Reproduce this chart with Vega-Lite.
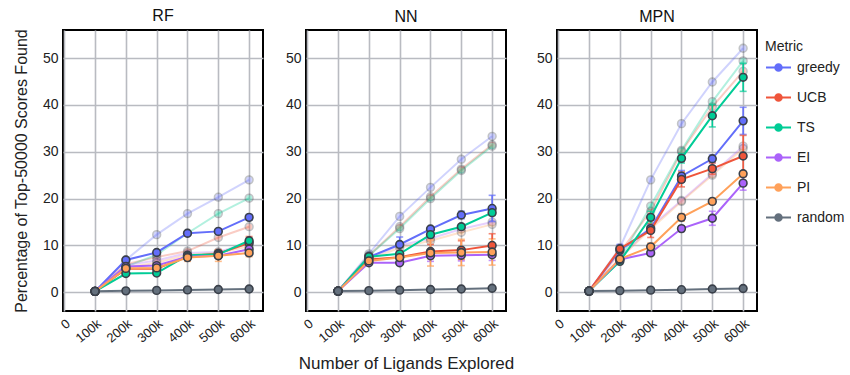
{
  "$schema": "https://vega.github.io/schema/vega-lite/v6.json",
  "padding": {"left": 12, "top": 6, "right": 5, "bottom": 2},
  "background": "white",
  "datasets": {
    "runs": [
      {"m":"RF","metric":"greedy","s":"main","n":100000,"pct":0.2},
      {"m":"RF","metric":"greedy","s":"main","n":200000,"pct":6.9},
      {"m":"RF","metric":"greedy","s":"main","n":300000,"pct":8.5},
      {"m":"RF","metric":"greedy","s":"main","n":400000,"pct":12.6},
      {"m":"RF","metric":"greedy","s":"main","n":500000,"pct":13.0},
      {"m":"RF","metric":"greedy","s":"main","n":600000,"pct":16.0,"err":0.6},
      {"m":"RF","metric":"UCB","s":"main","n":100000,"pct":0.2},
      {"m":"RF","metric":"UCB","s":"main","n":200000,"pct":5.0},
      {"m":"RF","metric":"UCB","s":"main","n":300000,"pct":5.0},
      {"m":"RF","metric":"UCB","s":"main","n":400000,"pct":7.7},
      {"m":"RF","metric":"UCB","s":"main","n":500000,"pct":8.3,"err":0.8},
      {"m":"RF","metric":"UCB","s":"main","n":600000,"pct":10.5,"err":1.4},
      {"m":"RF","metric":"TS","s":"main","n":100000,"pct":0.2},
      {"m":"RF","metric":"TS","s":"main","n":200000,"pct":4.0},
      {"m":"RF","metric":"TS","s":"main","n":300000,"pct":4.1},
      {"m":"RF","metric":"TS","s":"main","n":400000,"pct":7.9},
      {"m":"RF","metric":"TS","s":"main","n":500000,"pct":8.1},
      {"m":"RF","metric":"TS","s":"main","n":600000,"pct":11.0,"err":0.6},
      {"m":"RF","metric":"EI","s":"main","n":100000,"pct":0.2},
      {"m":"RF","metric":"EI","s":"main","n":200000,"pct":5.5},
      {"m":"RF","metric":"EI","s":"main","n":300000,"pct":5.7},
      {"m":"RF","metric":"EI","s":"main","n":400000,"pct":7.6},
      {"m":"RF","metric":"EI","s":"main","n":500000,"pct":7.8},
      {"m":"RF","metric":"EI","s":"main","n":600000,"pct":9.2,"err":0.8},
      {"m":"RF","metric":"PI","s":"main","n":100000,"pct":0.2},
      {"m":"RF","metric":"PI","s":"main","n":200000,"pct":5.1},
      {"m":"RF","metric":"PI","s":"main","n":300000,"pct":5.2},
      {"m":"RF","metric":"PI","s":"main","n":400000,"pct":7.4,"err":0.8},
      {"m":"RF","metric":"PI","s":"main","n":500000,"pct":7.8,"err":1.2},
      {"m":"RF","metric":"PI","s":"main","n":600000,"pct":8.4,"err":0.8},
      {"m":"RF","metric":"random","s":"main","n":100000,"pct":0.2},
      {"m":"RF","metric":"random","s":"main","n":200000,"pct":0.3},
      {"m":"RF","metric":"random","s":"main","n":300000,"pct":0.4},
      {"m":"RF","metric":"random","s":"main","n":400000,"pct":0.5},
      {"m":"RF","metric":"random","s":"main","n":500000,"pct":0.6},
      {"m":"RF","metric":"random","s":"main","n":600000,"pct":0.7},
      {"m":"RF","metric":"greedy","s":"alt","n":100000,"pct":0.2},
      {"m":"RF","metric":"greedy","s":"alt","n":200000,"pct":6.9},
      {"m":"RF","metric":"greedy","s":"alt","n":300000,"pct":12.3},
      {"m":"RF","metric":"greedy","s":"alt","n":400000,"pct":16.8},
      {"m":"RF","metric":"greedy","s":"alt","n":500000,"pct":20.3},
      {"m":"RF","metric":"greedy","s":"alt","n":600000,"pct":24.0},
      {"m":"RF","metric":"UCB","s":"alt","n":100000,"pct":0.2},
      {"m":"RF","metric":"UCB","s":"alt","n":200000,"pct":6.0},
      {"m":"RF","metric":"UCB","s":"alt","n":300000,"pct":7.5},
      {"m":"RF","metric":"UCB","s":"alt","n":400000,"pct":8.8},
      {"m":"RF","metric":"UCB","s":"alt","n":500000,"pct":11.7},
      {"m":"RF","metric":"UCB","s":"alt","n":600000,"pct":14.0},
      {"m":"RF","metric":"TS","s":"alt","n":100000,"pct":0.2},
      {"m":"RF","metric":"TS","s":"alt","n":200000,"pct":5.5},
      {"m":"RF","metric":"TS","s":"alt","n":300000,"pct":8.0},
      {"m":"RF","metric":"TS","s":"alt","n":400000,"pct":12.6},
      {"m":"RF","metric":"TS","s":"alt","n":500000,"pct":16.8},
      {"m":"RF","metric":"TS","s":"alt","n":600000,"pct":20.1},
      {"m":"RF","metric":"EI","s":"alt","n":100000,"pct":0.2},
      {"m":"RF","metric":"EI","s":"alt","n":200000,"pct":5.8},
      {"m":"RF","metric":"EI","s":"alt","n":300000,"pct":6.8},
      {"m":"RF","metric":"EI","s":"alt","n":400000,"pct":8.4},
      {"m":"RF","metric":"EI","s":"alt","n":500000,"pct":8.6},
      {"m":"RF","metric":"EI","s":"alt","n":600000,"pct":10.6},
      {"m":"RF","metric":"PI","s":"alt","n":100000,"pct":0.2},
      {"m":"RF","metric":"PI","s":"alt","n":200000,"pct":5.3},
      {"m":"RF","metric":"PI","s":"alt","n":300000,"pct":6.3},
      {"m":"RF","metric":"PI","s":"alt","n":400000,"pct":8.0},
      {"m":"RF","metric":"PI","s":"alt","n":500000,"pct":8.4},
      {"m":"RF","metric":"PI","s":"alt","n":600000,"pct":9.8},

      {"m":"NN","metric":"greedy","s":"main","n":100000,"pct":0.25},
      {"m":"NN","metric":"greedy","s":"main","n":200000,"pct":7.5},
      {"m":"NN","metric":"greedy","s":"main","n":300000,"pct":10.2,"err":1.6},
      {"m":"NN","metric":"greedy","s":"main","n":400000,"pct":13.5,"err":0.5},
      {"m":"NN","metric":"greedy","s":"main","n":500000,"pct":16.5,"err":0.8},
      {"m":"NN","metric":"greedy","s":"main","n":600000,"pct":17.9,"err":2.8},
      {"m":"NN","metric":"UCB","s":"main","n":100000,"pct":0.25},
      {"m":"NN","metric":"UCB","s":"main","n":200000,"pct":7.0},
      {"m":"NN","metric":"UCB","s":"main","n":300000,"pct":7.5},
      {"m":"NN","metric":"UCB","s":"main","n":400000,"pct":8.7,"err":1.5},
      {"m":"NN","metric":"UCB","s":"main","n":500000,"pct":9.0,"err":2.0},
      {"m":"NN","metric":"UCB","s":"main","n":600000,"pct":10.0,"err":2.5},
      {"m":"NN","metric":"TS","s":"main","n":100000,"pct":0.25},
      {"m":"NN","metric":"TS","s":"main","n":200000,"pct":7.6},
      {"m":"NN","metric":"TS","s":"main","n":300000,"pct":8.2},
      {"m":"NN","metric":"TS","s":"main","n":400000,"pct":12.3,"err":0.5},
      {"m":"NN","metric":"TS","s":"main","n":500000,"pct":14.0,"err":0.5},
      {"m":"NN","metric":"TS","s":"main","n":600000,"pct":17.0,"err":0.6},
      {"m":"NN","metric":"EI","s":"main","n":100000,"pct":0.25},
      {"m":"NN","metric":"EI","s":"main","n":200000,"pct":6.3},
      {"m":"NN","metric":"EI","s":"main","n":300000,"pct":6.3},
      {"m":"NN","metric":"EI","s":"main","n":400000,"pct":7.8,"err":1.2},
      {"m":"NN","metric":"EI","s":"main","n":500000,"pct":7.9,"err":1.2},
      {"m":"NN","metric":"EI","s":"main","n":600000,"pct":8.0,"err":1.2},
      {"m":"NN","metric":"PI","s":"main","n":100000,"pct":0.25},
      {"m":"NN","metric":"PI","s":"main","n":200000,"pct":6.7},
      {"m":"NN","metric":"PI","s":"main","n":300000,"pct":7.4,"err":1.2},
      {"m":"NN","metric":"PI","s":"main","n":400000,"pct":8.4,"err":2.8},
      {"m":"NN","metric":"PI","s":"main","n":500000,"pct":8.5,"err":2.8},
      {"m":"NN","metric":"PI","s":"main","n":600000,"pct":8.6,"err":2.8},
      {"m":"NN","metric":"random","s":"main","n":100000,"pct":0.25},
      {"m":"NN","metric":"random","s":"main","n":200000,"pct":0.35},
      {"m":"NN","metric":"random","s":"main","n":300000,"pct":0.45},
      {"m":"NN","metric":"random","s":"main","n":400000,"pct":0.6},
      {"m":"NN","metric":"random","s":"main","n":500000,"pct":0.7},
      {"m":"NN","metric":"random","s":"main","n":600000,"pct":0.85},
      {"m":"NN","metric":"greedy","s":"alt","n":100000,"pct":0.25},
      {"m":"NN","metric":"greedy","s":"alt","n":200000,"pct":8.2},
      {"m":"NN","metric":"greedy","s":"alt","n":300000,"pct":16.2},
      {"m":"NN","metric":"greedy","s":"alt","n":400000,"pct":22.4},
      {"m":"NN","metric":"greedy","s":"alt","n":500000,"pct":28.4},
      {"m":"NN","metric":"greedy","s":"alt","n":600000,"pct":33.3},
      {"m":"NN","metric":"UCB","s":"alt","n":100000,"pct":0.25},
      {"m":"NN","metric":"UCB","s":"alt","n":200000,"pct":7.8},
      {"m":"NN","metric":"UCB","s":"alt","n":300000,"pct":14.0},
      {"m":"NN","metric":"UCB","s":"alt","n":400000,"pct":20.4},
      {"m":"NN","metric":"UCB","s":"alt","n":500000,"pct":26.3},
      {"m":"NN","metric":"UCB","s":"alt","n":600000,"pct":31.5},
      {"m":"NN","metric":"TS","s":"alt","n":100000,"pct":0.25},
      {"m":"NN","metric":"TS","s":"alt","n":200000,"pct":7.8},
      {"m":"NN","metric":"TS","s":"alt","n":300000,"pct":13.6},
      {"m":"NN","metric":"TS","s":"alt","n":400000,"pct":20.0},
      {"m":"NN","metric":"TS","s":"alt","n":500000,"pct":26.0},
      {"m":"NN","metric":"TS","s":"alt","n":600000,"pct":31.2},
      {"m":"NN","metric":"EI","s":"alt","n":100000,"pct":0.25},
      {"m":"NN","metric":"EI","s":"alt","n":200000,"pct":7.3},
      {"m":"NN","metric":"EI","s":"alt","n":300000,"pct":10.0},
      {"m":"NN","metric":"EI","s":"alt","n":400000,"pct":11.5},
      {"m":"NN","metric":"EI","s":"alt","n":500000,"pct":13.5},
      {"m":"NN","metric":"EI","s":"alt","n":600000,"pct":15.0},
      {"m":"NN","metric":"PI","s":"alt","n":100000,"pct":0.25},
      {"m":"NN","metric":"PI","s":"alt","n":200000,"pct":7.0},
      {"m":"NN","metric":"PI","s":"alt","n":300000,"pct":9.5},
      {"m":"NN","metric":"PI","s":"alt","n":400000,"pct":11.0},
      {"m":"NN","metric":"PI","s":"alt","n":500000,"pct":12.8},
      {"m":"NN","metric":"PI","s":"alt","n":600000,"pct":14.5},

      {"m":"MPN","metric":"greedy","s":"main","n":100000,"pct":0.25},
      {"m":"MPN","metric":"greedy","s":"main","n":200000,"pct":9.0,"err":1.2},
      {"m":"MPN","metric":"greedy","s":"main","n":300000,"pct":13.6,"err":0.8},
      {"m":"MPN","metric":"greedy","s":"main","n":400000,"pct":24.8,"err":1.2},
      {"m":"MPN","metric":"greedy","s":"main","n":500000,"pct":28.5,"err":0.8},
      {"m":"MPN","metric":"greedy","s":"main","n":600000,"pct":36.6,"err":2.9},
      {"m":"MPN","metric":"UCB","s":"main","n":100000,"pct":0.25},
      {"m":"MPN","metric":"UCB","s":"main","n":200000,"pct":9.3},
      {"m":"MPN","metric":"UCB","s":"main","n":300000,"pct":13.2,"err":1.5},
      {"m":"MPN","metric":"UCB","s":"main","n":400000,"pct":24.1,"err":1.6},
      {"m":"MPN","metric":"UCB","s":"main","n":500000,"pct":26.4,"err":1.2},
      {"m":"MPN","metric":"UCB","s":"main","n":600000,"pct":29.1,"err":4.4},
      {"m":"MPN","metric":"TS","s":"main","n":100000,"pct":0.25},
      {"m":"MPN","metric":"TS","s":"main","n":200000,"pct":6.6},
      {"m":"MPN","metric":"TS","s":"main","n":300000,"pct":16.0,"err":1.3},
      {"m":"MPN","metric":"TS","s":"main","n":400000,"pct":28.6,"err":1.0},
      {"m":"MPN","metric":"TS","s":"main","n":500000,"pct":37.7,"err":2.4},
      {"m":"MPN","metric":"TS","s":"main","n":600000,"pct":45.9,"err":3.0},
      {"m":"MPN","metric":"EI","s":"main","n":100000,"pct":0.25},
      {"m":"MPN","metric":"EI","s":"main","n":200000,"pct":7.0},
      {"m":"MPN","metric":"EI","s":"main","n":300000,"pct":8.4,"err":0.5},
      {"m":"MPN","metric":"EI","s":"main","n":400000,"pct":13.6,"err":0.6},
      {"m":"MPN","metric":"EI","s":"main","n":500000,"pct":15.8,"err":1.5},
      {"m":"MPN","metric":"EI","s":"main","n":600000,"pct":23.3,"err":1.5},
      {"m":"MPN","metric":"PI","s":"main","n":100000,"pct":0.25},
      {"m":"MPN","metric":"PI","s":"main","n":200000,"pct":7.1},
      {"m":"MPN","metric":"PI","s":"main","n":300000,"pct":9.7,"err":0.8},
      {"m":"MPN","metric":"PI","s":"main","n":400000,"pct":16.0,"err":0.8},
      {"m":"MPN","metric":"PI","s":"main","n":500000,"pct":19.4,"err":0.6},
      {"m":"MPN","metric":"PI","s":"main","n":600000,"pct":25.3,"err":0.6},
      {"m":"MPN","metric":"random","s":"main","n":100000,"pct":0.25},
      {"m":"MPN","metric":"random","s":"main","n":200000,"pct":0.35},
      {"m":"MPN","metric":"random","s":"main","n":300000,"pct":0.45},
      {"m":"MPN","metric":"random","s":"main","n":400000,"pct":0.55},
      {"m":"MPN","metric":"random","s":"main","n":500000,"pct":0.7},
      {"m":"MPN","metric":"random","s":"main","n":600000,"pct":0.8},
      {"m":"MPN","metric":"greedy","s":"alt","n":100000,"pct":0.25},
      {"m":"MPN","metric":"greedy","s":"alt","n":200000,"pct":9.5},
      {"m":"MPN","metric":"greedy","s":"alt","n":300000,"pct":24.0},
      {"m":"MPN","metric":"greedy","s":"alt","n":400000,"pct":36.0},
      {"m":"MPN","metric":"greedy","s":"alt","n":500000,"pct":44.9},
      {"m":"MPN","metric":"greedy","s":"alt","n":600000,"pct":52.1},
      {"m":"MPN","metric":"UCB","s":"alt","n":100000,"pct":0.25},
      {"m":"MPN","metric":"UCB","s":"alt","n":200000,"pct":8.5},
      {"m":"MPN","metric":"UCB","s":"alt","n":300000,"pct":17.3},
      {"m":"MPN","metric":"UCB","s":"alt","n":400000,"pct":30.0},
      {"m":"MPN","metric":"UCB","s":"alt","n":500000,"pct":39.6},
      {"m":"MPN","metric":"UCB","s":"alt","n":600000,"pct":47.2},
      {"m":"MPN","metric":"TS","s":"alt","n":100000,"pct":0.25},
      {"m":"MPN","metric":"TS","s":"alt","n":200000,"pct":7.0},
      {"m":"MPN","metric":"TS","s":"alt","n":300000,"pct":18.4},
      {"m":"MPN","metric":"TS","s":"alt","n":400000,"pct":30.3},
      {"m":"MPN","metric":"TS","s":"alt","n":500000,"pct":40.7},
      {"m":"MPN","metric":"TS","s":"alt","n":600000,"pct":49.4},
      {"m":"MPN","metric":"EI","s":"alt","n":100000,"pct":0.25},
      {"m":"MPN","metric":"EI","s":"alt","n":200000,"pct":7.3},
      {"m":"MPN","metric":"EI","s":"alt","n":300000,"pct":14.0},
      {"m":"MPN","metric":"EI","s":"alt","n":400000,"pct":19.6},
      {"m":"MPN","metric":"EI","s":"alt","n":500000,"pct":25.3},
      {"m":"MPN","metric":"EI","s":"alt","n":600000,"pct":31.2},
      {"m":"MPN","metric":"PI","s":"alt","n":100000,"pct":0.25},
      {"m":"MPN","metric":"PI","s":"alt","n":200000,"pct":7.2},
      {"m":"MPN","metric":"PI","s":"alt","n":300000,"pct":13.5},
      {"m":"MPN","metric":"PI","s":"alt","n":400000,"pct":19.4},
      {"m":"MPN","metric":"PI","s":"alt","n":500000,"pct":25.0},
      {"m":"MPN","metric":"PI","s":"alt","n":600000,"pct":30.7}
    ]
  },
  "data": {"name": "runs"},
  "spacing": 20,
  "hconcat": [
    {
      "width": 200, "height": 281,
      "title": "RF",
      "transform": [{"filter": "datum.m === 'RF'"}],
      "encoding": {
        "x": {"field": "n", "type": "quantitative", "scale": {"domain": [-4000, 645000], "nice": false, "zero": false},
              "axis": {"title": null, "values": [0,100000,200000,300000,400000,500000,600000], "labelExpr": "datum.value === 0 ? '0' : format(datum.value, '~s')"}},
        "y": {"field": "pct", "type": "quantitative", "scale": {"domain": [-4, 56], "nice": false, "zero": false},
              "axis": {"title": "Percentage of Top-50000 Scores Found", "values": [0,10,20,30,40,50]}},
        "color": {"field": "metric", "type": "nominal", "title": "Metric",
                  "scale": {"domain": ["greedy","UCB","TS","EI","PI","random"], "range": ["#636EFA","#EF553B","#00CC96","#AB63FA","#FFA15A","#64707D"]}}
      },
      "layer": [
        {"transform": [{"filter": "datum.s === 'alt'"}], "mark": {"type": "line", "strokeWidth": 2, "opacity": 0.3}, "encoding": {}},
        {"transform": [{"filter": "datum.s === 'alt'"}], "mark": {"type": "point", "filled": true, "size": 60, "stroke": "#3a404a", "strokeWidth": 1.6, "opacity": 0.3}, "encoding": {}},
        {"transform": [{"filter": "datum.s === 'main' && datum.err > 0"}], "mark": {"type": "errorbar", "ticks": {"size": 7}, "thickness": 1.6}, "encoding": {"yError": {"field": "err"}}},
        {"transform": [{"filter": "datum.s === 'main'"}], "mark": {"type": "line", "strokeWidth": 2}, "encoding": {}},
        {"transform": [{"filter": "datum.s === 'main'"}], "mark": {"type": "point", "filled": true, "size": 60, "stroke": "#3a404a", "strokeWidth": 1.6, "opacity": 1}, "encoding": {}}
      ]
    },
    {
      "width": 200, "height": 281,
      "title": "NN",
      "transform": [{"filter": "datum.m === 'NN'"}],
      "encoding": {
        "x": {"field": "n", "type": "quantitative", "scale": {"domain": [-4000, 645000], "nice": false, "zero": false},
              "axis": {"title": "Number of Ligands Explored", "titleFontSize": 17, "values": [0,100000,200000,300000,400000,500000,600000], "labelExpr": "datum.value === 0 ? '0' : format(datum.value, '~s')"}},
        "y": {"field": "pct", "type": "quantitative", "scale": {"domain": [-4, 56], "nice": false, "zero": false},
              "axis": {"title": null, "values": [0,10,20,30,40,50]}},
        "color": {"field": "metric", "type": "nominal", "title": "Metric",
                  "scale": {"domain": ["greedy","UCB","TS","EI","PI","random"], "range": ["#636EFA","#EF553B","#00CC96","#AB63FA","#FFA15A","#64707D"]}}
      },
      "layer": [
        {"transform": [{"filter": "datum.s === 'alt'"}], "mark": {"type": "line", "strokeWidth": 2, "opacity": 0.3}, "encoding": {}},
        {"transform": [{"filter": "datum.s === 'alt'"}], "mark": {"type": "point", "filled": true, "size": 60, "stroke": "#3a404a", "strokeWidth": 1.6, "opacity": 0.3}, "encoding": {}},
        {"transform": [{"filter": "datum.s === 'main' && datum.err > 0"}], "mark": {"type": "errorbar", "ticks": {"size": 7}, "thickness": 1.6}, "encoding": {"yError": {"field": "err"}}},
        {"transform": [{"filter": "datum.s === 'main'"}], "mark": {"type": "line", "strokeWidth": 2}, "encoding": {}},
        {"transform": [{"filter": "datum.s === 'main'"}], "mark": {"type": "point", "filled": true, "size": 60, "stroke": "#3a404a", "strokeWidth": 1.6, "opacity": 1}, "encoding": {}}
      ]
    },
    {
      "width": 200, "height": 281,
      "title": "MPN",
      "transform": [{"filter": "datum.m === 'MPN'"}],
      "encoding": {
        "x": {"field": "n", "type": "quantitative", "scale": {"domain": [-4000, 645000], "nice": false, "zero": false},
              "axis": {"title": null, "values": [0,100000,200000,300000,400000,500000,600000], "labelExpr": "datum.value === 0 ? '0' : format(datum.value, '~s')"}},
        "y": {"field": "pct", "type": "quantitative", "scale": {"domain": [-4, 56], "nice": false, "zero": false},
              "axis": {"title": null, "values": [0,10,20,30,40,50]}},
        "color": {"field": "metric", "type": "nominal", "title": "Metric",
                  "scale": {"domain": ["greedy","UCB","TS","EI","PI","random"], "range": ["#636EFA","#EF553B","#00CC96","#AB63FA","#FFA15A","#64707D"]}}
      },
      "layer": [
        {"transform": [{"filter": "datum.s === 'alt'"}], "mark": {"type": "line", "strokeWidth": 2, "opacity": 0.3}, "encoding": {}},
        {"transform": [{"filter": "datum.s === 'alt'"}], "mark": {"type": "point", "filled": true, "size": 60, "stroke": "#3a404a", "strokeWidth": 1.6, "opacity": 0.3}, "encoding": {}},
        {"transform": [{"filter": "datum.s === 'main' && datum.err > 0"}], "mark": {"type": "errorbar", "ticks": {"size": 7}, "thickness": 1.6}, "encoding": {"yError": {"field": "err"}}},
        {"transform": [{"filter": "datum.s === 'main'"}], "mark": {"type": "line", "strokeWidth": 2}, "encoding": {}},
        {"transform": [{"filter": "datum.s === 'main'"}], "mark": {"type": "point", "filled": true, "size": 60, "stroke": "#3a404a", "strokeWidth": 1.6, "opacity": 1}, "encoding": {}}
      ]
    }
  ],
  "config": {
    "font": "Liberation Sans",
    "view": {"stroke": "#000000", "strokeWidth": 2},
    "title": {"fontSize": 16, "fontWeight": "normal", "color": "#111111", "offset": 5},
    "axis": {
      "grid": true, "gridColor": "#b9bbc1", "gridWidth": 1.6, "gridOpacity": 1,
      "domain": false, "ticks": false,
      "labelFont": "Liberation Sans", "labelFontSize": 14, "labelColor": "#222222", "labelPadding": 5,
      "titleFont": "Liberation Sans", "titleFontSize": 16, "titleFontWeight": "normal", "titleColor": "#222222"
    },
    "axisX": {"labelAngle": -40, "labelAlign": "right", "labelBaseline": "top", "labelFontSize": 13, "labelOverlap": false, "labelFlush": false, "labelPadding": 6, "titlePadding": 10},
    "axisY": {"titlePadding": 13},
    "legend": {
      "orient": "right", "offset": -3, "padding": 10,
      "titleFont": "Liberation Sans", "titleFontSize": 14, "titleFontWeight": "normal", "titleColor": "#222222", "titlePadding": 0,
      "labelFont": "Liberation Sans", "labelFontSize": 14, "labelColor": "#222222", "labelOffset": 5,
      "symbolType": "M-1,0H-0.26M0.26,0H1M0.26,0A0.26,0.26,0,1,1,-0.26,0A0.26,0.26,0,1,1,0.26,0",
      "symbolSize": 625, "symbolStrokeWidth": 2, "rowPadding": 9, "symbolOpacity": 1
    }
  }
}
